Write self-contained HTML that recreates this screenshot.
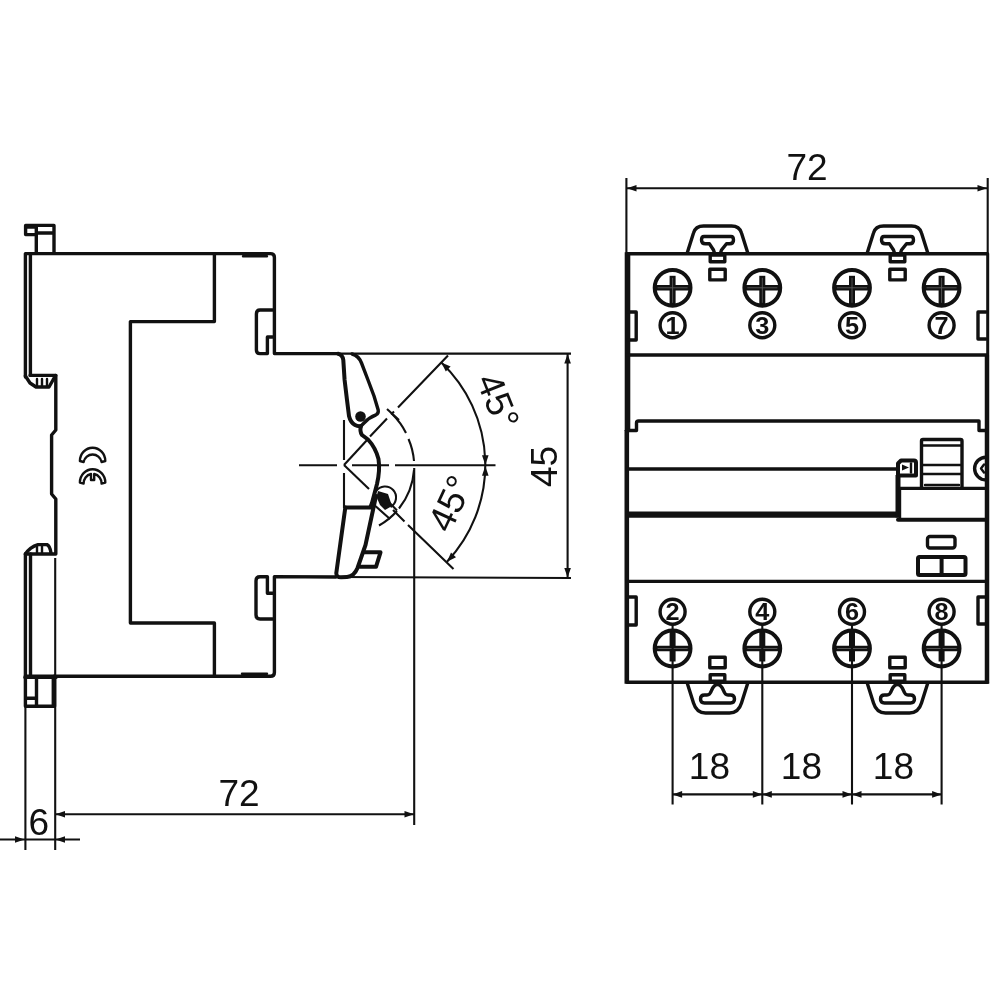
<!DOCTYPE html>
<html><head><meta charset="utf-8"><title>Dimensions</title>
<style>
html,body{margin:0;padding:0;background:#fff;}
body{width:1000px;height:1000px;overflow:hidden;}
svg{display:block;will-change:transform;}
text{font-family:"Liberation Sans",sans-serif;fill:#111;}
.k{stroke:#111;fill:none;stroke-width:3.4;stroke-linejoin:round;stroke-linecap:round;}
.t{stroke:#111;fill:none;stroke-width:2.1;}
.h{stroke:#111;fill:none;stroke-width:4;stroke-linejoin:round;stroke-linecap:round;}
.m{stroke:#111;fill:none;stroke-width:2.4;stroke-linejoin:round;stroke-linecap:round;}
.a{fill:#111;stroke:none;}
.cn{font-weight:bold;font-size:23px;text-anchor:middle;}
.d{font-size:37px;text-anchor:middle;}
</style></head><body>
<svg width="1000" height="1000" viewBox="0 0 1000 1000">
<rect width="1000" height="1000" fill="#fff"/>
<!-- LEFT VIEW -->
<g id="left">
<!-- outer body -->
<path class="k" d="M25.4,377 L25.4,253.6 L270.500,253.600 Q274.400,253.600 274.400,257.500 L274.400,353.600 L338,353.600"/>
<path class="m" stroke-width="1.600" d="M243,256.300 H267 M242,673.800 H267"/>
<path class="k" stroke-width="2.600" d="M30.400,254 L30.400,375"/>
<path class="k" d="M25.4,376 L30,383 L36,387 L49,387 L53,380 L55.8,375.4 L30,375.4"/>
<path class="m" d="M37,379 V386 M42,379 V386 M47,379 V386"/>
<path class="k" d="M55.8,375.4 L55.8,430 L51.6,435 L51.6,494 L55.8,499 L55.8,554 L25.4,554"/>
<path class="k" d="M25.4,554 Q30,547 38,544.6 L47,544.6 Q50,546 51,553"/>
<path class="m" d="M37,546 V553 M42,546 V553"/>
<path class="k" d="M25.400,554 L25.400,676"/><path class="k" stroke-width="2.600" d="M30.500,554 L30.500,676"/>
<path class="k" d="M25.400,676.300 L270.500,676.300 Q274.400,676.300 274.400,672.500 L274.400,576.600 L336,577"/>
<!-- inner -->
<path class="k" d="M214.4,253.6 L214.4,321.6 L130.4,321.6 L130.400,623 L214.400,623 L214.400,676"/>
<!-- slots -->
<path class="k" d="M272.6,310 L260,310 Q256.4,310 256.4,314 L256.4,350 Q256.4,353.6 260,353.6 L267.4,353.6 L267.4,337 L272.6,337"/>
<path class="k" d="M272.600,619 L260,619 Q256,619 256,615 L256,580.800 Q256,576.800 260,576.800 L267.400,576.800 L267.400,593.300 L272.600,593.300"/>
<!-- top clip -->
<path class="k" stroke-width="3.500" d="M54,253 V225.400 H25.600 V234.600 H36.300 M36.300,225.400 V253 M36.300,233 H54"/>
<path class="k" stroke-width="4.500" d="M27,227 H36"/>
<!-- bottom clip -->
<path class="k" stroke-width="3.300" d="M25.400,676 V706.300 H54.600 V676"/>
<path class="k" stroke-width="5.200" stroke-linecap="butt" d="M25,677.400 H56"/>
<path class="k" stroke-width="4.600" stroke-linecap="butt" d="M36.500,677 V706 M53.300,677 V706"/>
<path class="k" stroke-width="4.800" stroke-linecap="butt" d="M26,698.300 H35"/>
<!-- CE -->
<path class="m" stroke-width="2.700" d="M79.900,461 A12.700,13.300 0 0 1 105.300,461 L101.600,462 A9.200,9.500 0 0 0 83.600,462 Z"/>
<path class="m" stroke-width="2.700" d="M79.900,482.600 A12.700,13.300 0 0 1 105.300,482.600 L101.600,483.600 A9.200,9.500 0 0 0 94.200,474 L94.200,480 L91,480 L91,474 A9.200,9.500 0 0 0 83.600,483.600 Z"/>
</g>
<!-- handle -->
<g id="handle">
<path class="h" stroke-width="4.2" d="M338,353.700 Q342.500,354.500 343.300,360 L344.600,380 L347,400 L349,416 Q350.500,422.500 355,425 Q358,426.600 361,426"/>
<path class="k" stroke-width="2.900" d="M352,354 Q358.500,355.500 361.500,363 L368,380 L374,396 L378.200,410 Q378.800,413.500 376,414.800 Q369,417.500 364.500,422.500 L361,426"/>
<circle class="a" cx="360.500" cy="416.500" r="5.300"/>
<path class="h" stroke-width="4" d="M361,426 Q359.500,431.500 362,435 L368,439.500 Q375.500,447.500 378.500,459 Q380.200,470 377,484 L372,503 L370.500,507"/>
<path class="h" stroke-width="4" d="M345.500,507.600 H371.500"/>
<path class="h" stroke-width="3.700" d="M345.300,507.600 L336.300,573 Q336.200,577.300 341,577.300 L347,577 Q354,576.500 357.500,568 L361,558 L365.500,545 L373,510 L376,496"/>
<path class="h" stroke-width="3.500" d="M364.500,552.300 H380.500 L376,566.800 H360"/>
<path d="M378,491 L388,494 L392,506 L385,510 L380,505 L376.500,497 Z" class="a"/>
<path class="t" d="M376,491.200 A11,11 0 1 1 390.500,507"/>
<path class="t" d="M372,503 L390,519 M380,493 L397,510.500"/>
</g>
<!-- centre lines / angles -->
<g id="angles">
<path class="t" d="M299,465.300 H337 M352,465.300 H389 M395,465.300 H495.500" />
<path class="t" d="M344,420 V460 M344,473 V508"/>
<path class="t" stroke-width="2.300" d="M344,465 L368,439"/>
<path class="t" d="M370,436.500 L387,418.500 M391,414.500 L394,411.500 M398,407.500 L448,355.500"/>
<path class="t" stroke-width="2.300" d="M344,465 L369,489"/>
<path class="t" d="M393,510 L404.500,521.500 M408,525 L453.500,569"/>
<path class="t" d="M392.600,414.600 A70,70 0 0 1 406,433 M408.500,439 A70,70 0 0 1 414,461 M414,470 A70,70 0 0 1 399,508.500 M397,511 A70,70 0 0 1 379,525.500"/>
<path class="t" d="M387,409 L399,420"/>
<path class="t" d="M441.300,362.500 A141.300,141.300 0 0 1 447,561.700"/>
<path class="t" stroke-width="2.700" d="M414.200,468 V825"/>
<path class="t" d="M338,353.600 H571 M336,577 L571,578"/><path class="t" stroke-width="2.400" d="M567.600,353.600 V578"/>
<polygon class="a" points="567.600,354 564.300,363.500 570.900,363.500"/>
<polygon class="a" points="567.600,577.600 564.300,568 570.900,568"/>
<polygon class="a" points="441.300,362.500 450.600,366.500 445.800,371.500"/>
<polygon class="a" points="447,561.700 456,557.200 451,552.400"/>
<polygon class="a" points="485.300,465 482,455.200 488.600,455.200"/>
<polygon class="a" points="485.300,466 482,475.800 488.600,475.800"/>
<text class="d" transform="translate(486.200,406) rotate(68)" x="0" y="0">45°</text>
<text class="d" transform="translate(461.800,508.800) rotate(-65)" x="0" y="0">45°</text>
<text class="d" transform="translate(556.500,466.500) rotate(-90)" x="0" y="0">45</text>
</g>
<!-- left dims -->
<g id="ldims">
<path class="t" stroke-width="2.700" d="M25.400,707 V850"/><path class="t" stroke-width="2.300" d="M55.200,558 V850"/>
<path class="t" d="M55,814.300 H414"/>
<polygon class="a" points="55.500,814.300 65,811 65,817.600"/>
<polygon class="a" points="414,814.300 404.500,811 404.500,817.600"/>
<path class="t" d="M0,839.500 H80"/>
<polygon class="a" points="24.500,839.500 15,836.200 15,842.800"/>
<polygon class="a" points="55.500,839.500 65,836.200 65,842.800"/>
<text class="d" x="239" y="806.200">72</text>
<text class="d" x="38.800" y="834.500">6</text>
</g>
<!-- RIGHT VIEW -->
<g id="right">
<path stroke="#111" fill="none" stroke-width="5.600" d="M627.500,252.300 V431"/>
<path stroke="#111" fill="none" stroke-width="4.600" d="M626.800,430 V683.700"/>
<path class="k" d="M627,253.800 H987.500 M627,682.200 H987.500"/>
<path stroke="#111" fill="none" stroke-width="3" d="M987.700,253.800 V355"/>
<path stroke="#111" fill="none" stroke-width="4.500" d="M987,355 V683.700"/>
<path class="k" d="M627,355 H987"/>
<path class="k" d="M627,430.500 H636.500 V423 Q636.500,421 638.500,421 H979 V430.500 H987"/>
<path class="k" d="M627,469 H896.500"/>
<path d="M627,514.600 H899" stroke="#111" stroke-width="6.200" fill="none"/>
<path class="k" d="M627,581.400 H987"/>
<path class="k" d="M628,312 H636.200 V340 H628"/>
<path class="k" d="M986,312 H978 V339 H986"/>
<path class="k" d="M628,597 H636.200 V625 H628"/>
<path class="k" d="M986,597 H978 V624 H986"/>
<circle class="h" cx="672.6" cy="287.8" r="17.900" stroke-width="3.600"/>
<path stroke="#111" stroke-width="5.400" fill="none" d="M655.6,287.8 H689.6"/>
<path stroke="#111" stroke-width="6" fill="none" d="M672.6,275.8 V304.8"/>
<path stroke="#5a5a5a" stroke-width="0.900" fill="none" d="M657.6,287.8 H687.6 M672.6,277.8 V302.8"/>
<circle class="h" cx="672.6" cy="648.5" r="17.900" stroke-width="3.600"/>
<path stroke="#111" stroke-width="5.400" fill="none" d="M655.6,648.5 H689.6"/>
<path stroke="#111" stroke-width="6" fill="none" d="M672.6,631.5 V661.5"/>
<path stroke="#5a5a5a" stroke-width="0.900" fill="none" d="M657.6,648.5 H687.6 M672.6,633.5 V659.5"/>
<circle class="k" cx="672.6" cy="325.200" r="12.500" stroke-width="2.800"/>
<text class="cn" transform="translate(672.6,333.600) scale(1.1,1)" x="0" y="0">1</text>
<circle class="k" cx="672.6" cy="611.700" r="12.500" stroke-width="2.800"/>
<text class="cn" transform="translate(672.6,620.100) scale(1.1,1)" x="0" y="0">2</text>
<circle class="h" cx="762.3" cy="287.8" r="17.900" stroke-width="3.600"/>
<path stroke="#111" stroke-width="5.400" fill="none" d="M745.3,287.8 H779.3"/>
<path stroke="#111" stroke-width="6" fill="none" d="M762.3,275.8 V304.8"/>
<path stroke="#5a5a5a" stroke-width="0.900" fill="none" d="M747.3,287.8 H777.3 M762.3,277.8 V302.8"/>
<circle class="h" cx="762.3" cy="648.5" r="17.900" stroke-width="3.600"/>
<path stroke="#111" stroke-width="5.400" fill="none" d="M745.3,648.5 H779.3"/>
<path stroke="#111" stroke-width="6" fill="none" d="M762.3,631.5 V661.5"/>
<path stroke="#5a5a5a" stroke-width="0.900" fill="none" d="M747.3,648.5 H777.3 M762.3,633.5 V659.5"/>
<circle class="k" cx="762.3" cy="325.200" r="12.500" stroke-width="2.800"/>
<text class="cn" transform="translate(762.3,333.600) scale(1.1,1)" x="0" y="0">3</text>
<circle class="k" cx="762.3" cy="611.700" r="12.500" stroke-width="2.800"/>
<text class="cn" transform="translate(762.3,620.100) scale(1.1,1)" x="0" y="0">4</text>
<circle class="h" cx="852" cy="287.8" r="17.900" stroke-width="3.600"/>
<path stroke="#111" stroke-width="5.400" fill="none" d="M835.0,287.8 H869.0"/>
<path stroke="#111" stroke-width="6" fill="none" d="M852,275.8 V304.8"/>
<path stroke="#5a5a5a" stroke-width="0.900" fill="none" d="M837.0,287.8 H867.0 M852,277.8 V302.8"/>
<circle class="h" cx="852" cy="648.5" r="17.900" stroke-width="3.600"/>
<path stroke="#111" stroke-width="5.400" fill="none" d="M835.0,648.5 H869.0"/>
<path stroke="#111" stroke-width="6" fill="none" d="M852,631.5 V661.5"/>
<path stroke="#5a5a5a" stroke-width="0.900" fill="none" d="M837.0,648.5 H867.0 M852,633.5 V659.5"/>
<circle class="k" cx="852" cy="325.200" r="12.500" stroke-width="2.800"/>
<text class="cn" transform="translate(852,333.600) scale(1.1,1)" x="0" y="0">5</text>
<circle class="k" cx="852" cy="611.700" r="12.500" stroke-width="2.800"/>
<text class="cn" transform="translate(852,620.100) scale(1.1,1)" x="0" y="0">6</text>
<circle class="h" cx="941.6" cy="287.8" r="17.900" stroke-width="3.600"/>
<path stroke="#111" stroke-width="5.400" fill="none" d="M924.6,287.8 H958.6"/>
<path stroke="#111" stroke-width="6" fill="none" d="M941.6,275.8 V304.8"/>
<path stroke="#5a5a5a" stroke-width="0.900" fill="none" d="M926.6,287.8 H956.6 M941.6,277.8 V302.8"/>
<circle class="h" cx="941.6" cy="648.5" r="17.900" stroke-width="3.600"/>
<path stroke="#111" stroke-width="5.400" fill="none" d="M924.6,648.5 H958.6"/>
<path stroke="#111" stroke-width="6" fill="none" d="M941.6,631.5 V661.5"/>
<path stroke="#5a5a5a" stroke-width="0.900" fill="none" d="M926.6,648.5 H956.6 M941.6,633.5 V659.5"/>
<circle class="k" cx="941.6" cy="325.200" r="12.500" stroke-width="2.800"/>
<text class="cn" transform="translate(941.6,333.600) scale(1.1,1)" x="0" y="0">7</text>
<circle class="k" cx="941.6" cy="611.700" r="12.500" stroke-width="2.800"/>
<text class="cn" transform="translate(941.6,620.100) scale(1.1,1)" x="0" y="0">8</text>
<path class="k" d="M687.2,253 L693.5,233 Q695.5,226 703.5,226 H731.5 Q739.5,226 741.5,233 L747.8,253"/>
<path class="k" d="M704.0,236.500 H731.0 Q733.5,236.500 733.5,240 Q733.5,243.800 729.5,243.800 H726.5 L721.5,250 L720.5,253 M714.5,253 L713.5,250 L709.5,243.800 H705.5 Q701.5,243.800 701.5,240 Q701.5,236.500 704.0,236.500"/>
<rect class="k" stroke-width="3.400" x="710.2" y="255" width="14.600" height="6.700"/>
<rect class="k" stroke-width="3.400" x="709.8" y="269.300" width="15.400" height="10.600"/>
<path class="k" d="M687.2,683 L693.5,703 Q696.5,713 705.5,713 H729.5 Q738.5,713 741.5,703 L747.8,683"/>
<path class="k" stroke-width="3.300" d="M704.5,703 H730.5 Q734.5,703 734.5,699 Q734.5,695 730.5,695 H728.0 Q725.0,695 723.5,690.500 Q721.0,684.500 717.5,684.500 Q714.0,684.500 711.5,690.500 Q710.0,695 707.0,695 H704.5 Q700.5,695 700.5,699 Q700.5,703 704.5,703 Z"/>
<rect class="k" stroke-width="3.400" x="710.2" y="674.700" width="14.600" height="6.500"/>
<rect class="k" stroke-width="3.400" x="709.8" y="657.200" width="15.400" height="10.600"/>
<path class="k" d="M867.2,253 L873.5,233 Q875.5,226 883.5,226 H911.5 Q919.5,226 921.5,233 L927.8,253"/>
<path class="k" d="M884.0,236.500 H911.0 Q913.5,236.500 913.5,240 Q913.5,243.800 909.5,243.800 H906.5 L901.5,250 L900.5,253 M894.5,253 L893.5,250 L889.5,243.800 H885.5 Q881.5,243.800 881.5,240 Q881.5,236.500 884.0,236.500"/>
<rect class="k" stroke-width="3.400" x="890.2" y="255" width="14.600" height="6.700"/>
<rect class="k" stroke-width="3.400" x="889.8" y="269.300" width="15.400" height="10.600"/>
<path class="k" d="M867.2,683 L873.5,703 Q876.5,713 885.5,713 H909.5 Q918.5,713 921.5,703 L927.8,683"/>
<path class="k" stroke-width="3.300" d="M884.5,703 H910.5 Q914.5,703 914.5,699 Q914.5,695 910.5,695 H908.0 Q905.0,695 903.5,690.500 Q901.0,684.500 897.5,684.500 Q894.0,684.500 891.5,690.500 Q890.0,695 887.0,695 H884.5 Q880.5,695 880.5,699 Q880.5,703 884.5,703 Z"/>
<rect class="k" stroke-width="3.400" x="890.2" y="674.700" width="14.600" height="6.500"/>
<rect class="k" stroke-width="3.400" x="889.8" y="657.200" width="15.400" height="10.600"/>
<path class="k" d="M921.500,487 V441 Q921.500,439.500 923,439.500 H960.500 Q962,439.500 962,441 V487"/>
<path class="m" d="M923,445.500 H961 M923,465 H961 M923,474 H961 M925,485 H959"/>
<path class="h" d="M898,475.500 V463.500 L901,460.500 H914 Q916,460.500 916,462.500 V475.500 H898"/><path stroke="#111" fill="none" stroke-width="5" d="M898,475 V517.500"/>
<polygon class="a" points="902,464.500 909,467.500 902,470.500"/><path class="m" d="M911,463.500 V472.500"/>
<path class="k" d="M900,488.400 H985.500"/>
<path class="h" stroke-width="5" d="M898,519.800 H986"/>
<path class="m" d="M900,488.400 V519"/>
<path class="k" d="M986,457.200 A11.400,11.400 0 0 0 986,480"/>
<path class="m" d="M984,464.500 l-3,4 l3,4"/>
<rect class="k" x="927.500" y="536.500" width="27.500" height="11.500" rx="2.500"/>
<rect class="h" x="918" y="557" width="47.500" height="18" rx="1.500"/>
<path class="h" d="M941.600,557 V575"/>
</g>
<g id="rdims">
<path class="t" stroke-width="2.600" d="M626.400,178 V254 M987.700,178 V254"/><path class="t" d="M626.400,188.200 H987"/>
<polygon class="a" points="627,188.200 636.500,184.900 636.500,191.500"/>
<polygon class="a" points="987,188.200 977.500,184.900 977.500,191.500"/>
<text class="d" x="807" y="180">72</text>
<path class="t" stroke-width="2.2" d="M672.6,625 V804.500"/>
<path class="t" stroke-width="3.4" d="M762.3,625 V804.500"/>
<path class="t" stroke-width="2.2" d="M852,625 V804.500"/>
<path class="t" stroke-width="2.2" d="M941.6,625 V804.500"/>
<path class="t" d="M672.6,794.400 H941.6"/>
<polygon class="a" points="672.6,794.400 682.1,791.100 682.1,797.700"/>
<polygon class="a" points="762.3,794.400 752.8,791.100 752.8,797.700"/>
<text class="d" x="709.4" y="779.300">18</text>
<polygon class="a" points="762.3,794.400 771.8,791.100 771.8,797.700"/>
<polygon class="a" points="852,794.400 842.5,791.100 842.5,797.700"/>
<text class="d" x="801.4" y="779.300">18</text>
<polygon class="a" points="852,794.400 861.5,791.100 861.5,797.700"/>
<polygon class="a" points="941.6,794.400 932.1,791.100 932.1,797.700"/>
<text class="d" x="893.4" y="779.300">18</text>
</g>
</svg>
</body></html>
